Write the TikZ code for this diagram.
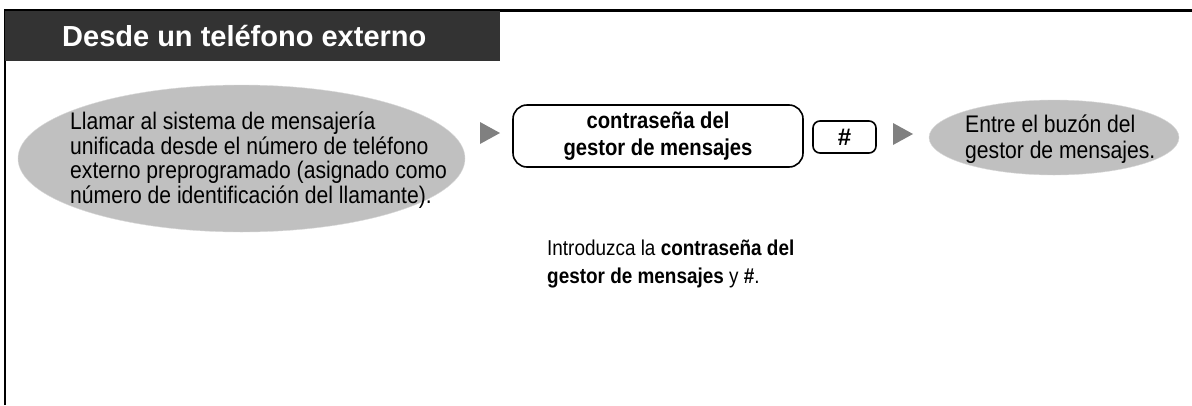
\documentclass[tikz,border=0pt]{standalone}
\usepackage{fontspec}
\setmainfont{Liberation Sans}
\newfontfamily\narrowfont[FakeStretch=0.88]{Liberation Sans}
\usetikzlibrary{shapes.geometric}
\definecolor{titlegray}{HTML}{333333}
\definecolor{bubblegray}{HTML}{C0C0C0}
\definecolor{tipgray}{HTML}{808080}

\begin{document}
\begin{tikzpicture}[x=1pt,y=-1pt]
      % Styles
      \tikzstyle{bubble} = [ellipse, fill=bubblegray, draw=bubblegray!60, inner sep=0pt]
      \tikzstyle{keybox} = [draw, line width=1.6pt, rounded corners=14pt, inner sep=0pt, text centered]
      \tikzstyle{tipfill} = [fill=tipgray]

      \useasboundingbox (0,0) rectangle (1192,405);

      % Frame and title bar
      \draw[line width=2.2pt] (5.3,405) -- (5.3,10.5) -- (1192,10.5);
      \node[fill=titlegray, anchor=north west, minimum width=495pt, minimum height=50pt, inner sep=0pt] (bar) at (5,11) {};
      \node[anchor=west, text=white, inner sep=0pt, font=\bfseries\fontsize{29}{32}\selectfont] (title) at (62,36.5) {Desde un teléfono externo};

      % Left bubble
      \node[bubble, minimum width=447pt, minimum height=147pt] (call) at (241.5,158.5) {};
      \node[anchor=west, align=left, inner sep=0pt, font=\narrowfont\fontsize{24}{24.5}\selectfont] (calltext) at (70,160) {Llamar al sistema de mensajería\\unificada desde el número de teléfono\\externo preprogramado (asignado como\\número de identificación del llamante).};

      % Password box and # key
      \node[keybox, minimum width=290pt, minimum height=62pt, align=center, font=\narrowfont\bfseries\fontsize{23}{27}\selectfont] (pwd) at (658,136) {contraseña del\\gestor de mensajes};
      \node[keybox, rounded corners=7pt, minimum width=63pt, minimum height=32pt, font=\bfseries\fontsize{24}{26}\selectfont] (hash) at (844.5,137) {\#};

      % Right bubble
      \node[bubble, minimum width=250pt, minimum height=75pt] (mbox) at (1054,137.5) {};
      \node[anchor=west, align=left, inner sep=0pt, font=\narrowfont\fontsize{24}{26}\selectfont] (mboxtext) at (965,139) {Entre el buzón del\\gestor de mensajes.};

      % Arrow tips
      \fill[tipfill] (480,122) -- (500,133) -- (480,144) -- cycle;
      \fill[tipfill] (893,123) -- (913,134) -- (893,145) -- cycle;

      % Note
      \node[anchor=north west, align=left, inner sep=0pt, font=\narrowfont\fontsize{21.5}{28}\selectfont] (note) at (547,240) {Introduzca la \textbf{contraseña del}\\\textbf{gestor de mensajes} y \textbf{\#}.};

    \end{tikzpicture}
\end{document}
